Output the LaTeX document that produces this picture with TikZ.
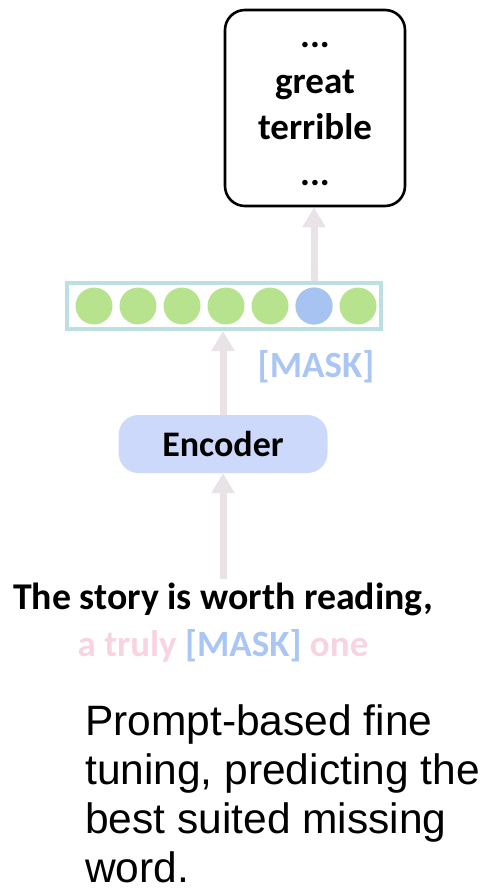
\documentclass[tikz,border=0pt]{standalone}
\usepackage{fontspec}
\setmainfont{Carlito}
\newfontfamily\captionfont{Liberation Sans}
\usetikzlibrary{arrows.meta}
\definecolor{arrowgray}{HTML}{E9E2E6}
\definecolor{rowteal}{HTML}{BCE0E2}
\definecolor{tokgreen}{HTML}{B8E38E}
\definecolor{tokblue}{HTML}{A6C3F2}
\definecolor{encblue}{HTML}{CDD9FA}
\definecolor{maskblue}{HTML}{A9C6F5}
\definecolor{softpink}{HTML}{F8D3E1}
\begin{document}
\begin{tikzpicture}[x=1pt, y=-1pt,
  flow/.style={draw=arrowgray, line width=7pt, -{Triangle[width=22pt, length=20pt]}},
  token/.style={circle, minimum size=37pt, inner sep=0pt}]
\useasboundingbox (0,0) rectangle (485,890);
\node[draw, line width=2.6pt, rounded corners=20pt, minimum width=180pt, minimum height=196pt] (words) at (315,108) {};
\node[align=center, font=\bfseries\fontsize{37}{46}\selectfont] (wordlist) at (315,114) {...\\great\\terrible\\...};
\node[draw=rowteal, line width=4pt, minimum width=314pt, minimum height=46pt] (row) at (224,306) {};
\foreach \i in {0,...,6} {
  \node[token, fill=tokgreen] (t\i) at (94+44*\i,306) {};
}
\node[token, fill=tokblue] (t5) at (314,306) {};
\node[text=maskblue, font=\bfseries\fontsize{37}{40}\selectfont] (masklbl) at (316,367) {[MASK]};
\node[fill=encblue, rounded corners=20pt, minimum width=209pt, minimum height=58pt, font=\bfseries\fontsize{36}{40}\selectfont] (enc) at (223,444) {Encoder};
\node[font=\bfseries\fontsize{37.8}{40}\selectfont] (story) at (223,599) {The story is worth reading,};
\node[font=\bfseries\fontsize{37}{40}\selectfont, text=softpink] (tail) at (223,646) {a truly \textcolor{maskblue}{[MASK]} one};
\node[anchor=north west, align=left, inner sep=0pt, font=\captionfont\fontsize{42.5}{49}\selectfont] (caption) at (85,704) {Prompt-based fine\\tuning, predicting the\\best suited missing\\word.};
\draw[flow] (story.north -| enc.south) -- (enc.south);
\draw[flow] (enc.north) -- (row.south -| enc.north);
\draw[flow] (row.north -| t5) -- (words.south -| t5);
\end{tikzpicture}
\end{document}
